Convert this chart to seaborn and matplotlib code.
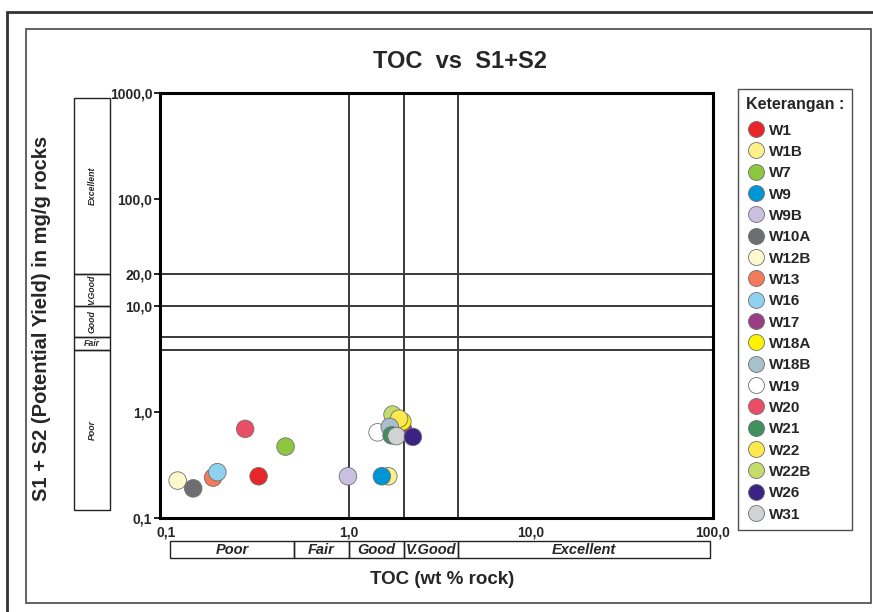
import numpy as np
import pandas as pd
import matplotlib
matplotlib.use("Agg")
import matplotlib.pyplot as plt
import seaborn as sns
from matplotlib.patches import Rectangle
from matplotlib.lines import Line2D
from matplotlib.ticker import FixedLocator, FixedFormatter, NullLocator

# ---------------- data ----------------
wells = ["W1", "W1B", "W7", "W9", "W9B", "W10A", "W12B", "W13", "W16", "W17",
         "W18A", "W18B", "W19", "W20", "W21", "W22", "W22B", "W26", "W31"]
toc = [0.32, 1.65, 0.45, 1.52, 0.99, 0.14, 0.115, 0.18, 0.19, 1.98,
       1.97, 1.68, 1.44, 0.27, 1.72, 1.89, 1.74, 2.25, 1.83]
s1s2 = [0.247, 0.247, 0.47, 0.247, 0.247, 0.19, 0.225, 0.24, 0.27, 0.70,
        0.81, 0.72, 0.64, 0.69, 0.60, 0.86, 0.94, 0.58, 0.59]
colors = ["#e8262a", "#fbf08a", "#8dc63f", "#0096d6", "#cbc0e0", "#6d6e70",
          "#fdf9cd", "#f37a5a", "#8fd1ef", "#9b3d82", "#fff200", "#a8bfcc",
          "#ffffff", "#ea4e67", "#3f8f5f", "#fbe94e", "#c3dc6c", "#3a2382",
          "#d1d2d4"]
draw_order = ["W12B", "W10A", "W13", "W16", "W20", "W1", "W7", "W9B", "W1B", "W9",
              "W19", "W22B", "W17", "W18A", "W22", "W18B", "W21", "W31", "W26"]

x_ticks = [0.1, 1, 10, 100]
x_tick_labels = ["0,1", "1,0", "10,0", "100,0"]
y_ticks = [0.1, 1, 10, 20, 100, 1000]
y_tick_labels = ["0,1", "1,0", "10,0", "20,0", "100,0", "1000,0"]

toc_classes = ["Poor", "Fair", "Good", "V.Good", "Excellent"]
toc_bounds = [0.105, 0.5, 1, 2, 4, 96]
toc_lines = [1, 2, 4]
s_classes = ["Poor", "Fair", "Good", "V.Good", "Excellent"]
s_bounds = [0.12, 3.8, 5, 10, 20, 900]
s_lines = [3.8, 5, 10, 20]

# ---------------- figure ----------------
sns.set_theme(style="white")
plt.rcParams['font.family'] = ['Liberation Sans', 'DejaVu Sans']

W, H = 873, 612
fig = plt.figure(figsize=(W / 100, H / 100), dpi=100)
fig.patch.set_facecolor("white")


def rect(l, t, r, b):
    return [l / W, 1 - b / H, (r - l) / W, (b - t) / H]


# frames
fig.patches.append(Rectangle((7 / W, -0.1), 1.2, 1 - 12 / H + 0.1, transform=fig.transFigure,
                             fill=False, ec="#333333", lw=2.0, zorder=0))
fig.patches.append(Rectangle((26 / W, 1 - 603 / H), (871 - 26) / W, (603 - 29) / H,
                             transform=fig.transFigure, fill=False, ec="#555555", lw=1.3, zorder=0))

ax = fig.add_axes(rect(160, 93, 713, 518))
df = pd.DataFrame({"well": wells, "toc": toc, "s1s2": s1s2})
df = df.set_index("well").loc[draw_order].reset_index()
palette = dict(zip(wells, colors))
sns.scatterplot(data=df, x="toc", y="s1s2", hue="well", hue_order=wells, palette=palette,
                s=160, edgecolor="#707070", linewidth=0.6, ax=ax, legend=False, zorder=3)
ax.set_xscale("log")
ax.set_yscale("log")
ax.set_xlim(0.092, 100)
ax.set_ylim(0.1, 1000)
for v in toc_lines:
    ax.axvline(v, color="#3a3a3a", lw=1.4, zorder=1)
for v in s_lines:
    ax.axhline(v, color="#3a3a3a", lw=1.4, zorder=1)
for sp in ax.spines.values():
    sp.set_color("black")
    sp.set_linewidth(2.2)
ax.xaxis.set_major_locator(FixedLocator(x_ticks))
ax.xaxis.set_major_formatter(FixedFormatter(x_tick_labels))
ax.yaxis.set_major_locator(FixedLocator(y_ticks))
ax.yaxis.set_major_formatter(FixedFormatter(y_tick_labels))
ax.xaxis.set_minor_locator(NullLocator())
ax.yaxis.set_minor_locator(NullLocator())
ax.tick_params(axis="both", which="major", labelsize=10, length=4, width=1.2,
               color="black", pad=1.5, left=True, bottom=False)
for lab in ax.get_xticklabels() + ax.get_yticklabels():
    lab.set_fontweight("bold")
ax.set_xlabel("")
ax.set_ylabel("")
ax.grid(False)

# left classification bar
axl = fig.add_axes(rect(74, 93, 110, 518))
axl.set_yscale("log")
axl.set_ylim(0.1, 1000)
axl.set_xlim(0, 1)
axl.axis("off")
for i, name in enumerate(s_classes):
    lo, hi = s_bounds[i], s_bounds[i + 1]
    axl.add_patch(Rectangle((0, lo), 1, hi - lo, fill=False, ec="#222222", lw=1.0, clip_on=False))
    yc = np.sqrt(lo * hi)
    rot = 0 if name == "Fair" else 90
    axl.text(0.5, yc, name, rotation=rot, ha="center", va="center", fontsize=6.3,
             fontweight="bold", fontstyle="italic")

# bottom classification bar
axb = fig.add_axes(rect(160, 541, 713, 558))
axb.set_xscale("log")
axb.set_xlim(0.092, 100)
axb.set_ylim(0, 1)
axb.axis("off")
for i, name in enumerate(toc_classes):
    lo, hi = toc_bounds[i], toc_bounds[i + 1]
    axb.add_patch(Rectangle((lo, 0), hi - lo, 1, fill=False, ec="#222222", lw=1.0, clip_on=False))
    axb.text(np.sqrt(lo * hi), 0.5, name, ha="center", va="center", fontsize=10.5,
             fontweight="bold", fontstyle="italic")

# titles
fig.text(460 / W, 1 - 62 / H, "TOC  vs  S1+S2", ha="center", va="center",
         fontsize=17, fontweight="bold")
fig.text(442 / W, 1 - 579 / H, "TOC (wt % rock)", ha="center", va="center",
         fontsize=13.5, fontweight="bold")
fig.text(42 / W, 1 - 318 / H, "S1 + S2 (Potential Yield) in mg/g rocks", ha="center",
         va="center", rotation=90, fontsize=14.5, fontweight="bold")

# legend
handles = [Line2D([], [], ls="", marker="o", markersize=11.5, markerfacecolor=palette[w],
                  markeredgecolor="#707070", markeredgewidth=0.6) for w in wells]
leg = fig.legend(handles, wells, loc="upper left",
                 bbox_to_anchor=(738 / W, 1 - 531 / H, 114 / W, 442 / H), mode="expand",
                 title="Keterangan :", prop={"weight": "bold", "size": 11},
                 title_fontproperties={"weight": "bold", "size": 11.5},
                 frameon=True, fancybox=False, edgecolor="#222222", labelspacing=0.48,
                 handletextpad=0.25, handlelength=1.2, borderpad=0.55, alignment="left",
                 borderaxespad=0)
leg.get_frame().set_linewidth(1.0)
leg._legend_box.sep = 8

fig.savefig("out.png", dpi=100, facecolor="white")
